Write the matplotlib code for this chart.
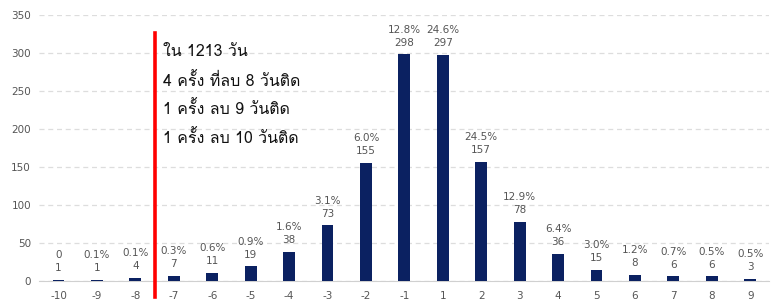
import matplotlib
matplotlib.use("Agg")
import matplotlib.pyplot as plt
from matplotlib import font_manager
from matplotlib.ft2font import FT2Font

days = [-10, -9, -8, -7, -6, -5, -4, -3, -2, -1, 1, 2, 3, 4, 5, 6, 7, 8, 9]
counts = [1, 1, 4, 7, 11, 19, 38, 73, 155, 298, 297, 157, 78, 36, 15, 8, 6, 6, 3]
pcts = ["0", "0.1%", "0.1%", "0.3%", "0.6%", "0.9%", "1.6%", "3.1%", "6.0%", "12.8%",
        "24.6%", "24.5%", "12.9%", "6.4%", "3.0%", "1.2%", "0.7%", "0.5%", "0.5%"]
notes = ["ใน 1213 วัน", "4 ครั้ง ที่ลบ 8 วันติด", "1 ครั้ง ลบ 9 วันติด", "1 ครั้ง ลบ 10 วันติด"]


def find_thai_font():
    # หา font ที่มีอักษรไทย
    for f in font_manager.fontManager.ttflist:
        try:
            if 0x0E01 in FT2Font(f.fname).get_charmap():
                return f.name
        except Exception:
            pass
    return "DejaVu Sans"


thai = find_thai_font()

fig = plt.figure(figsize=(7.71, 3.05), dpi=100)
ax = fig.add_axes([0.051, 0.079, 0.947, 0.872])

x = list(range(len(days)))
ax.bar(x, counts, width=0.31, color="#0b2161", zorder=3)

for i in x:
    ax.text(i, counts[i] + 9, str(counts[i]), ha="center", va="bottom", fontsize=7.5, color="#555555")
    ax.text(i, counts[i] + 26, pcts[i], ha="center", va="bottom", fontsize=7.5, color="#555555")

ax.set_xlim(-0.5, len(days) - 0.5)
ax.set_ylim(0, 350)
ax.set_yticks(range(0, 351, 50))
ax.set_xticks(x)
ax.set_xticklabels([str(d) for d in days])
ax.tick_params(axis="both", length=0, labelsize=7.5, labelcolor="#555555")
ax.tick_params(axis="x", pad=7)
ax.tick_params(axis="y", pad=6)

ax.grid(axis="y", linestyle=(0, (4, 3)), color="#dddddd", linewidth=0.9, zorder=0)
for s in ["top", "right", "left"]:
    ax.spines[s].set_visible(False)
ax.spines["bottom"].set_color("#d0d0d0")

# เส้นแบ่งสีแดง
split_x = 2.5
ax.plot([split_x, split_x], [-21, 326], color="#ff0000", linewidth=2.6, clip_on=False, zorder=4)

note_y = [301, 263, 225, 187]
for t, y in zip(notes, note_y):
    ax.text(2.72, y, t, fontsize=11.5, family=[thai, "DejaVu Sans"], va="center", ha="left", color="#111111")

fig.savefig("out.png", dpi=100)
